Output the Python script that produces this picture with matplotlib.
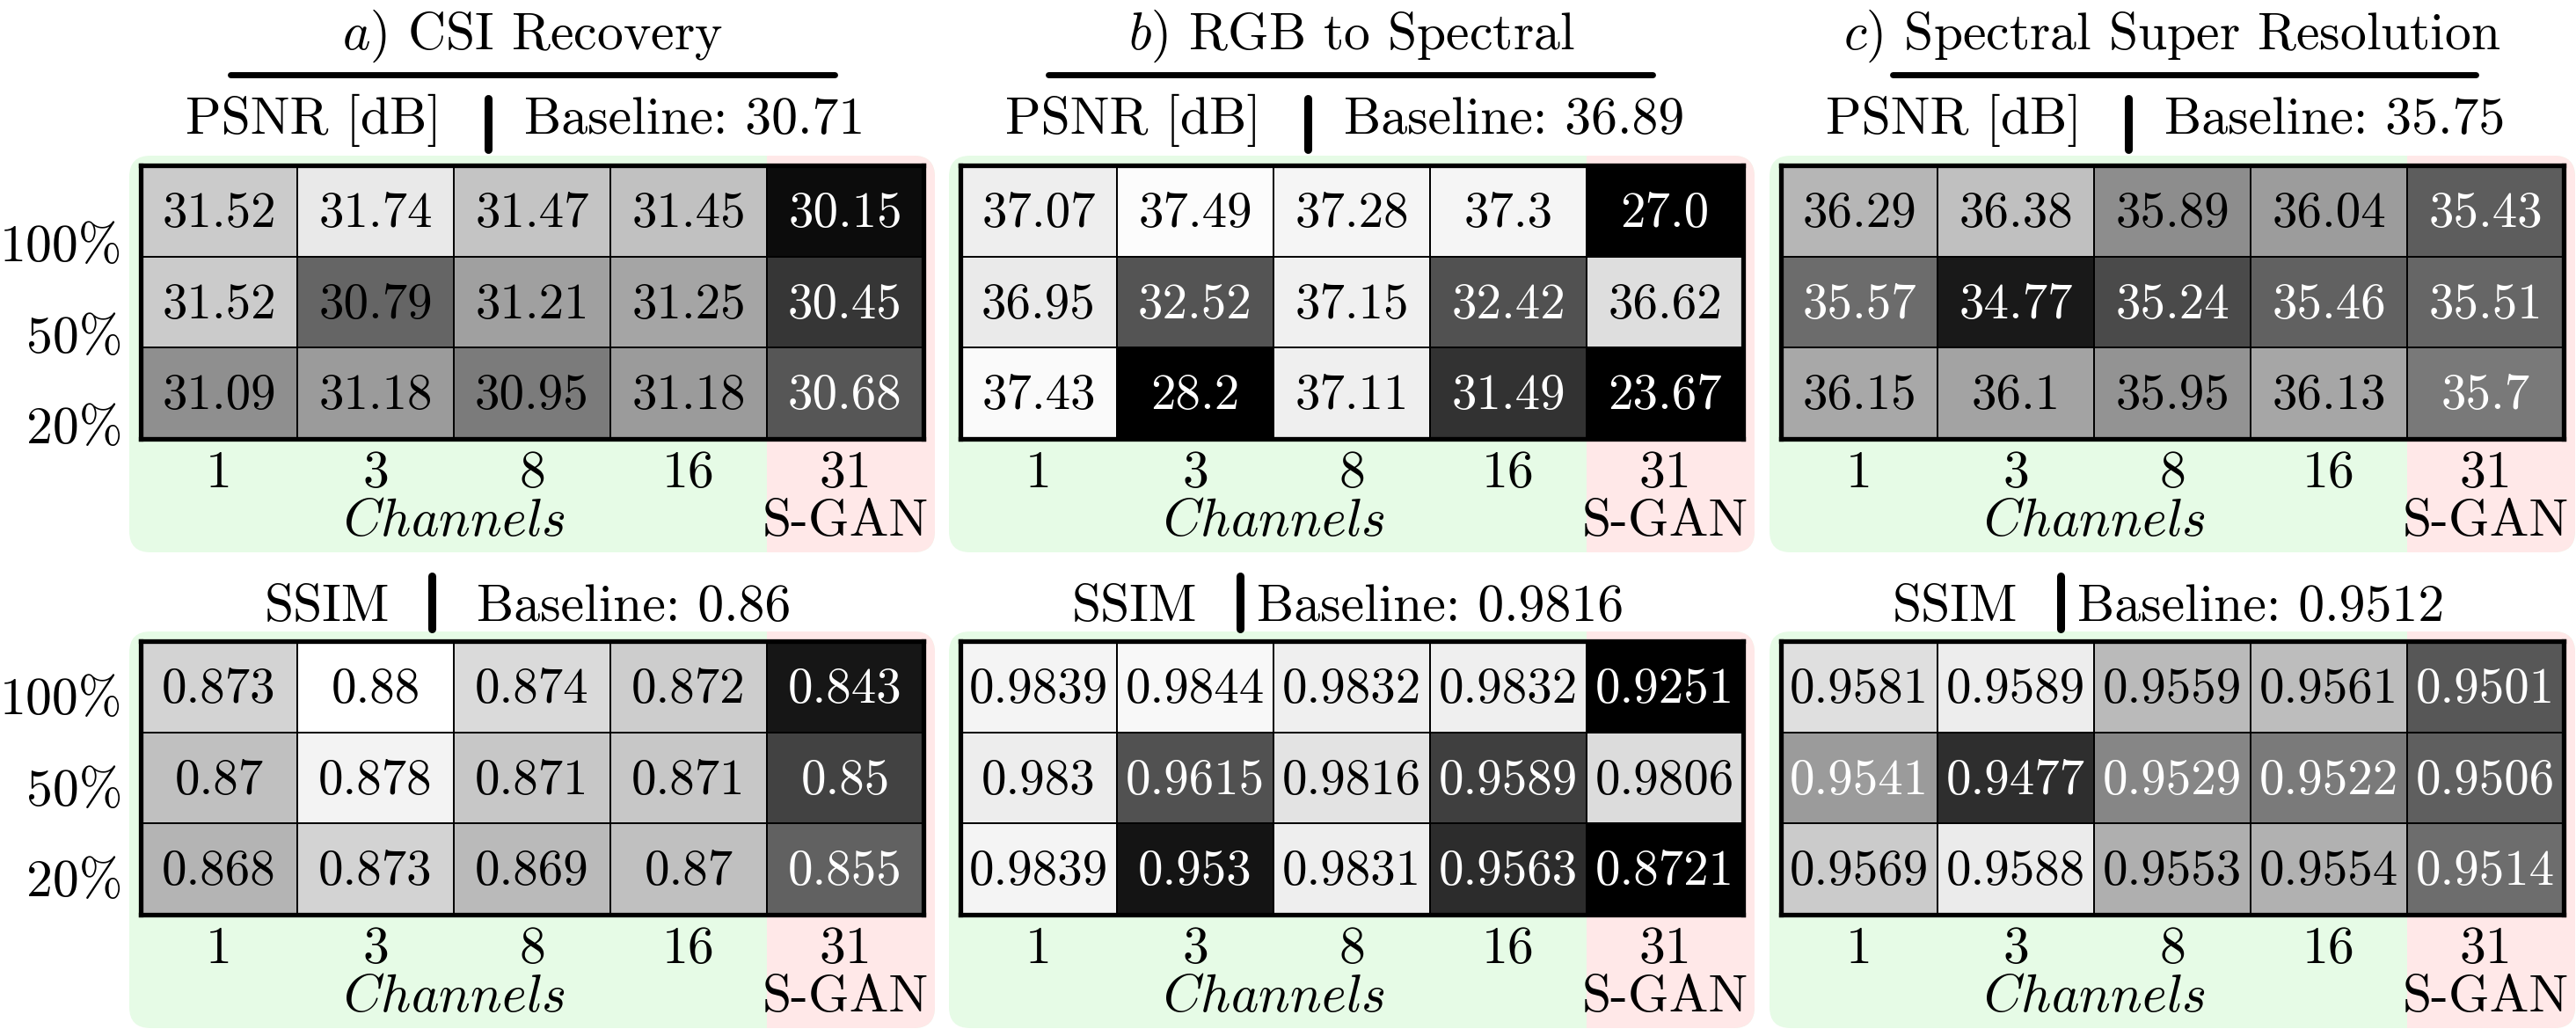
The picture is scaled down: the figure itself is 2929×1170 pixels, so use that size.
import matplotlib

matplotlib.use("Agg")
import matplotlib.pyplot as plt
import numpy as np
from matplotlib.patches import FancyBboxPatch, Rectangle
from matplotlib.transforms import blended_transform_factory

plt.rcParams["font.family"] = "serif"
plt.rcParams["font.serif"] = ["cmr10"]
plt.rcParams["mathtext.fontset"] = "cm"
plt.rcParams["axes.unicode_minus"] = False
plt.rcParams["axes.formatter.use_mathtext"] = True

# ==================== Data ====================
channels = ["1", "3", "8", "16", "31"]
ratios = ["100%", "50%", "20%"]
letters = ["a)", "b)", "c)"]
tasks = ["CSI Recovery", "RGB to Spectral", "Spectral Super Resolution"]

psnr_csi = [[31.52, 31.74, 31.47, 31.45, 30.15],
            [31.52, 30.79, 31.21, 31.25, 30.45],
            [31.09, 31.18, 30.95, 31.18, 30.68]]
psnr_rgb = [[37.07, 37.49, 37.28, 37.3, 27.0],
            [36.95, 32.52, 37.15, 32.42, 36.62],
            [37.43, 28.2, 37.11, 31.49, 23.67]]
psnr_ssr = [[36.29, 36.38, 35.89, 36.04, 35.43],
            [35.57, 34.77, 35.24, 35.46, 35.51],
            [36.15, 36.1, 35.95, 36.13, 35.7]]

ssim_csi = [[0.873, 0.88, 0.874, 0.872, 0.843],
            [0.87, 0.878, 0.871, 0.871, 0.85],
            [0.868, 0.873, 0.869, 0.87, 0.855]]
ssim_rgb = [[0.9839, 0.9844, 0.9832, 0.9832, 0.9251],
            [0.983, 0.9615, 0.9816, 0.9589, 0.9806],
            [0.9839, 0.953, 0.9831, 0.9563, 0.8721]]
ssim_ssr = [[0.9581, 0.9589, 0.9559, 0.9561, 0.9501],
            [0.9541, 0.9477, 0.9529, 0.9522, 0.9506],
            [0.9569, 0.9588, 0.9553, 0.9554, 0.9514]]

psnr_baseline = ["30.71", "36.89", "35.75"]
ssim_baseline = ["0.86", "0.9816", "0.9512"]

# colour limits of the grey scale and value below which the text is white
psnr_clim = [(30.06, 31.9), (30.0, 37.6), (34.52, 37.0)]
ssim_clim = [(0.8395, 0.880), (0.9502, 0.9855), (0.9450, 0.9600)]
psnr_white_below = [30.75, 34.0, 35.75]
ssim_white_below = [0.86, 0.97, 0.955]

# ==================== Layout (pixels) ====================
W, H = 2929, 1170
PANEL_LEFT = [147, 1079, 2012]
PANEL_W = 916
ROW_TOP = [177, 718]
ROW_BOTTOM = [628, 1169]
HM_DX, HM_DY, HM_W, HM_H = 13, 11, 890, 311
UNDERLINE = [(262, 949), (1192, 1879), (2152, 2815)]
SUB_BASE = [152, 706]
SUB_BAR = [(-40, 18), (-51, 9)]
SUB_POS = [
    [(355, 408, 449), (355, 408, 449), (355, 408, 449)],
    [(296, 344, 395), (282, 331, 350), (282, 331, 350)],
]
ROW_LABEL_SHIFT = [0.35, 0.1]
GREEN = "#e6fbe6"
PINK = "#ffe8e8"
FS_CELL = 41
FS_TEXT = 43

fig = plt.figure(figsize=(W / 100, H / 100), dpi=100)
bg = fig.add_axes([0, 0, 1, 1], zorder=0)
bg.set_xlim(0, W)
bg.set_ylim(H, 0)
bg.axis("off")

rows = [
    ("PSNR [dB]", [psnr_csi, psnr_rgb, psnr_ssr], psnr_baseline, psnr_clim, psnr_white_below),
    ("SSIM", [ssim_csi, ssim_rgb, ssim_ssr], ssim_baseline, ssim_clim, ssim_white_below),
]

for p in range(3):
    cx = PANEL_LEFT[p] + PANEL_W / 2
    bg.text(cx, 56, rf"$\mathit{{{letters[p]}}}$ {tasks[p]}", ha="center",
            va="baseline", fontsize=FS_TEXT)
    bg.plot(UNDERLINE[p], [85, 85], color="black", lw=5, solid_capstyle="round")

for r, (metric, panels, baselines, clims, white_below) in enumerate(rows):
    for p in range(3):
        left = PANEL_LEFT[p]
        top, bottom = ROW_TOP[r], ROW_BOTTOM[r]
        hm_left = left + HM_DX
        col_w = HM_W / 5
        pink_left = hm_left + 4 * col_w

        # backgrounds
        bg.add_patch(FancyBboxPatch((left, top), PANEL_W, bottom - top,
                                    boxstyle="round,pad=0,rounding_size=24",
                                    fc=GREEN, ec="none"))
        bg.add_patch(FancyBboxPatch((pink_left, top), left + PANEL_W - pink_left, bottom - top,
                                    boxstyle="round,pad=0,rounding_size=24",
                                    fc=PINK, ec="none"))
        bg.add_patch(Rectangle((pink_left, top), 40, bottom - top, fc=PINK, ec="none"))

        # subtitle
        lx, bx, rx = SUB_POS[r][p]
        yb = SUB_BASE[r]
        bg.text(left + lx, yb, metric, ha="right", va="baseline", fontsize=FS_TEXT)
        bg.text(left + rx, yb, f"Baseline: {baselines[p]}", ha="left", va="baseline",
                fontsize=FS_TEXT)
        bg.plot([left + bx, left + bx], [yb + SUB_BAR[r][0], yb + SUB_BAR[r][1]],
                color="black", lw=6.5, solid_capstyle="round")

        # heatmap
        y0 = top + HM_DY
        ax = fig.add_axes([hm_left / W, 1 - (y0 + HM_H) / H, HM_W / W, HM_H / H], zorder=2)
        data = np.array(panels[p])
        vmin, vmax = clims[p]
        ax.pcolormesh(data, cmap="gray", vmin=vmin, vmax=vmax,
                      edgecolors="black", linewidth=1.4)
        ax.set_xlim(0, 5)
        ax.set_ylim(3, 0)
        for s in ax.spines.values():
            s.set_linewidth(3.8)
        for i in range(3):
            for j in range(5):
                v = data[i, j]
                ax.text(j + 0.5, i + 0.5 + 0.176, str(v), ha="center", va="baseline",
                        fontsize=FS_CELL,
                        color="white" if v < white_below[p] else "black")

        ax.set_xticks(np.arange(5) + 0.5, channels, fontsize=FS_TEXT)
        ax.tick_params(axis="x", length=0, pad=9.5)
        if p == 0:
            ax.set_yticks(np.arange(3) + 0.5 + ROW_LABEL_SHIFT[r], ratios, fontsize=FS_TEXT)
            ax.tick_params(axis="y", length=0, pad=15)
        else:
            ax.set_yticks([])

        tr = blended_transform_factory(ax.transData, ax.transAxes)
        ax.text(2.0, -110 / HM_H, r"$\mathit{Channels}$", transform=tr, ha="center",
                va="baseline", fontsize=FS_TEXT)
        ax.text(4.5, -110 / HM_H, "S-GAN", transform=tr, ha="center", va="baseline",
                fontsize=FS_TEXT)

fig.savefig("out.png", dpi=100)
plt.close(fig)
